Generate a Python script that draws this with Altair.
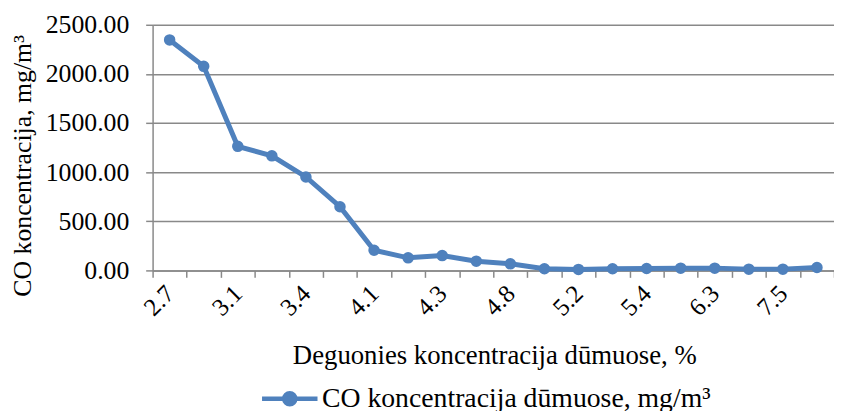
import altair as alt
import pandas as pd

# Oxygen concentration in flue gas, % (every other label shown on the axis)
categories = ["2.7", "2.9", "3.1", "3.3", "3.4", "3.8", "4.1", "4.2", "4.3", "4.5",
              "4.8", "5.0", "5.2", "5.3", "5.4", "5.8", "6.3", "6.9", "7.5", "8.1"]
# CO concentration in flue gas, mg/m3
co_values = [2346, 2077, 1263, 1166, 951, 648, 205, 128, 151, 94,
             67, 17, 10, 17, 20, 23, 23, 13, 13, 30]
shown_labels = categories[::2]
y_ticks = [0, 500, 1000, 1500, 2000, 2500]
series_name = "CO koncentracija dūmuose, mg/m³"

df = pd.DataFrame({"o2": categories, "co": co_values, "series": series_name})

BLUE = "#4F81BD"
GRAY = "#898989"
FONT = "Liberation Serif"

label_list = "[" + ",".join("'" + s + "'" for s in shown_labels) + "]"

x_enc = alt.X(
    "o2:N",
    sort=categories,
    scale=alt.Scale(paddingInner=0, paddingOuter=0),
    axis=alt.Axis(
        title="Deguonies koncentracija dūmuose, %",
        labelAngle=-45,
        labelAlign="right",
        labelBaseline="middle",
        labelExpr=f"indexof({label_list}, datum.value) >= 0 ? datum.value : ''",
        labelOverlap=False,
        labelPadding=12,
        labelFont=FONT,
        labelFontSize=25,
        labelColor="#000000",
        tickBand="extent",
        tickSize=7,
        titleFont=FONT,
        titleFontSize=27,
        titleX=345,
        titleY=94,
        titleBaseline="alphabetic",
        titleAlign="center",
    ),
)

y_enc = alt.Y(
    "co:Q",
    scale=alt.Scale(domain=[0, 2500], nice=False),
    axis=alt.Axis(
        title="CO koncentracija, mg/m³",
        values=y_ticks,
        format=".2f",
        labelFont=FONT,
        labelFontSize=26,
        labelColor="#000000",
        labelPadding=17,
        tickSize=7,
        titleFont=FONT,
        titleFontSize=26,
        titleX=-131,
        titleY=142,
        titleBaseline="middle",
        titleAlign="center",
        grid=True,
    ),
)

color_enc = alt.Color(
    "series:N",
    scale=alt.Scale(range=[BLUE]),
    legend=alt.Legend(
        title=None,
        orient="none",
        legendX=122,
        legendY=361,
        symbolType="M-2,0L2,0M0.4,0A0.4,0.4,0,1,1,-0.4,0A0.4,0.4,0,1,1,0.4,0",
        symbolSize=784,
        symbolStrokeWidth=4.5,
        symbolFillColor=BLUE,
        symbolStrokeColor=BLUE,
        labelFontSize=28,
        labelFont=FONT,
        labelColor="#000000",
        labelOffset=16,
        labelLimit=600,
    ),
)

base = alt.Chart(df).encode(x=x_enc, y=y_enc, color=color_enc)

line = base.mark_line(strokeWidth=5)
points = base.mark_point(filled=True, size=135, opacity=1, shape="circle")

chart = (
    alt.layer(line, points)
    .properties(
        width=688,
        height=248,
        padding={"left": 146, "top": 15, "right": 0, "bottom": 140},
        autosize=alt.AutoSizeParams(type="none"),
        background="white",
    )
    .configure_axis(
        labelFont=FONT,
        titleFont=FONT,
        labelColor="#000000",
        titleColor="#000000",
        titleFontWeight="normal",
        domainColor=GRAY,
        domainWidth=1.5,
        tickColor=GRAY,
        tickWidth=1.5,
        gridColor=GRAY,
        gridWidth=1.5,
    )
    .configure_legend(labelFont=FONT)
    .configure_axisX(grid=False)
    .configure_view(stroke=None)
)

chart.save("out.html", embed_options={"renderer": "svg", "actions": False})
